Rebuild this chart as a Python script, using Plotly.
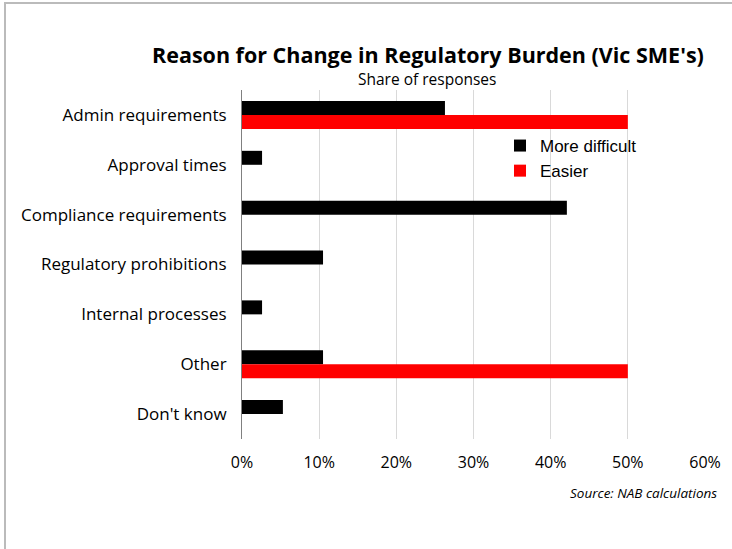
import plotly.graph_objects as go

categories = ["Admin requirements", "Approval times", "Compliance requirements",
              "Regulatory prohibitions", "Internal processes", "Other", "Don't know"]
more_difficult = [26.3, 2.6, 42.1, 10.5, 2.6, 10.5, 5.3]
easier = [50, 0, 0, 0, 0, 50, 0]
x_ticks = [0, 10, 20, 30, 40, 50, 60]
x_tick_labels = ["0%", "10%", "20%", "30%", "40%", "50%", "60%"]

W, H = 732, 549
L, R, T, B = 242, 27, 90, 110
pw, ph = W - L - R, H - T - B

def px(x):
    return (x - L) / pw

def py(y):
    return 1 - (y - T) / ph

fig = go.Figure()
fig.add_trace(go.Bar(y=categories, x=more_difficult, orientation="h", name="More difficult",
                     marker=dict(color="#000000", line=dict(width=0))))
fig.add_trace(go.Bar(y=categories, x=easier, orientation="h", name="Easier",
                     marker=dict(color="#ff0000", line=dict(width=0))))

font_main = "Open Sans, Noto Sans, sans-serif"

fig.update_layout(
    width=W, height=H,
    margin=dict(l=L, r=R, t=T, b=B),
    paper_bgcolor="white", plot_bgcolor="white",
    barmode="group", bargap=0.44, bargroupgap=0,
    font=dict(family=font_main, size=17, color="#000000"),
    showlegend=True,
    legend=dict(x=px(500), y=py(128), xanchor="left", yanchor="top",
                font=dict(family="Liberation Sans, Arial, sans-serif", size=17, color="#000000"),
                bgcolor="rgba(0,0,0,0)", itemwidth=30, tracegroupgap=0),
    xaxis=dict(range=[0, 60], tickvals=x_ticks, ticktext=x_tick_labels, showgrid=True,
               gridcolor="#d9d9d9", gridwidth=1, zeroline=False, showline=False,
               ticks="", tickfont=dict(size=16), ticklabelstandoff=12, fixedrange=True),
    yaxis=dict(categoryorder="array", categoryarray=categories, autorange="reversed",
               showline=True, linecolor="#808080", linewidth=1, ticks="",
               ticklabelstandoff=11, tickfont=dict(size=17), showgrid=False),
    annotations=[
        dict(text="<b>Reason for Change in Regulatory Burden (Vic SME's)</b>", xref="paper", yref="paper",
             x=px(428), y=py(55), xanchor="center", yanchor="middle", showarrow=False,
             font=dict(size=21.5, family=font_main)),
        dict(text="Share of responses", xref="paper", yref="paper",
             x=px(427), y=py(79), xanchor="center", yanchor="middle", showarrow=False,
             font=dict(size=15.5, family=font_main)),
        dict(text="<i>Source: NAB calculations</i>", xref="paper", yref="paper",
             x=px(719), y=py(493), xanchor="right", yanchor="middle", showarrow=False,
             font=dict(size=13.5, family=font_main)),
    ],
    shapes=[
        dict(type="line", xref="paper", yref="paper", x0=px(4), x1=px(W), y0=py(3), y1=py(3),
             line=dict(color="#bbbbbb", width=2)),
        dict(type="line", xref="paper", yref="paper", x0=px(5), x1=px(5), y0=py(2), y1=py(H),
             line=dict(color="#bbbbbb", width=2)),
    ],
)

fig.write_html("out.html", config={"displayModeBar": False},
               post_script="document.body.style.margin='0px';document.body.style.overflow='hidden';")
